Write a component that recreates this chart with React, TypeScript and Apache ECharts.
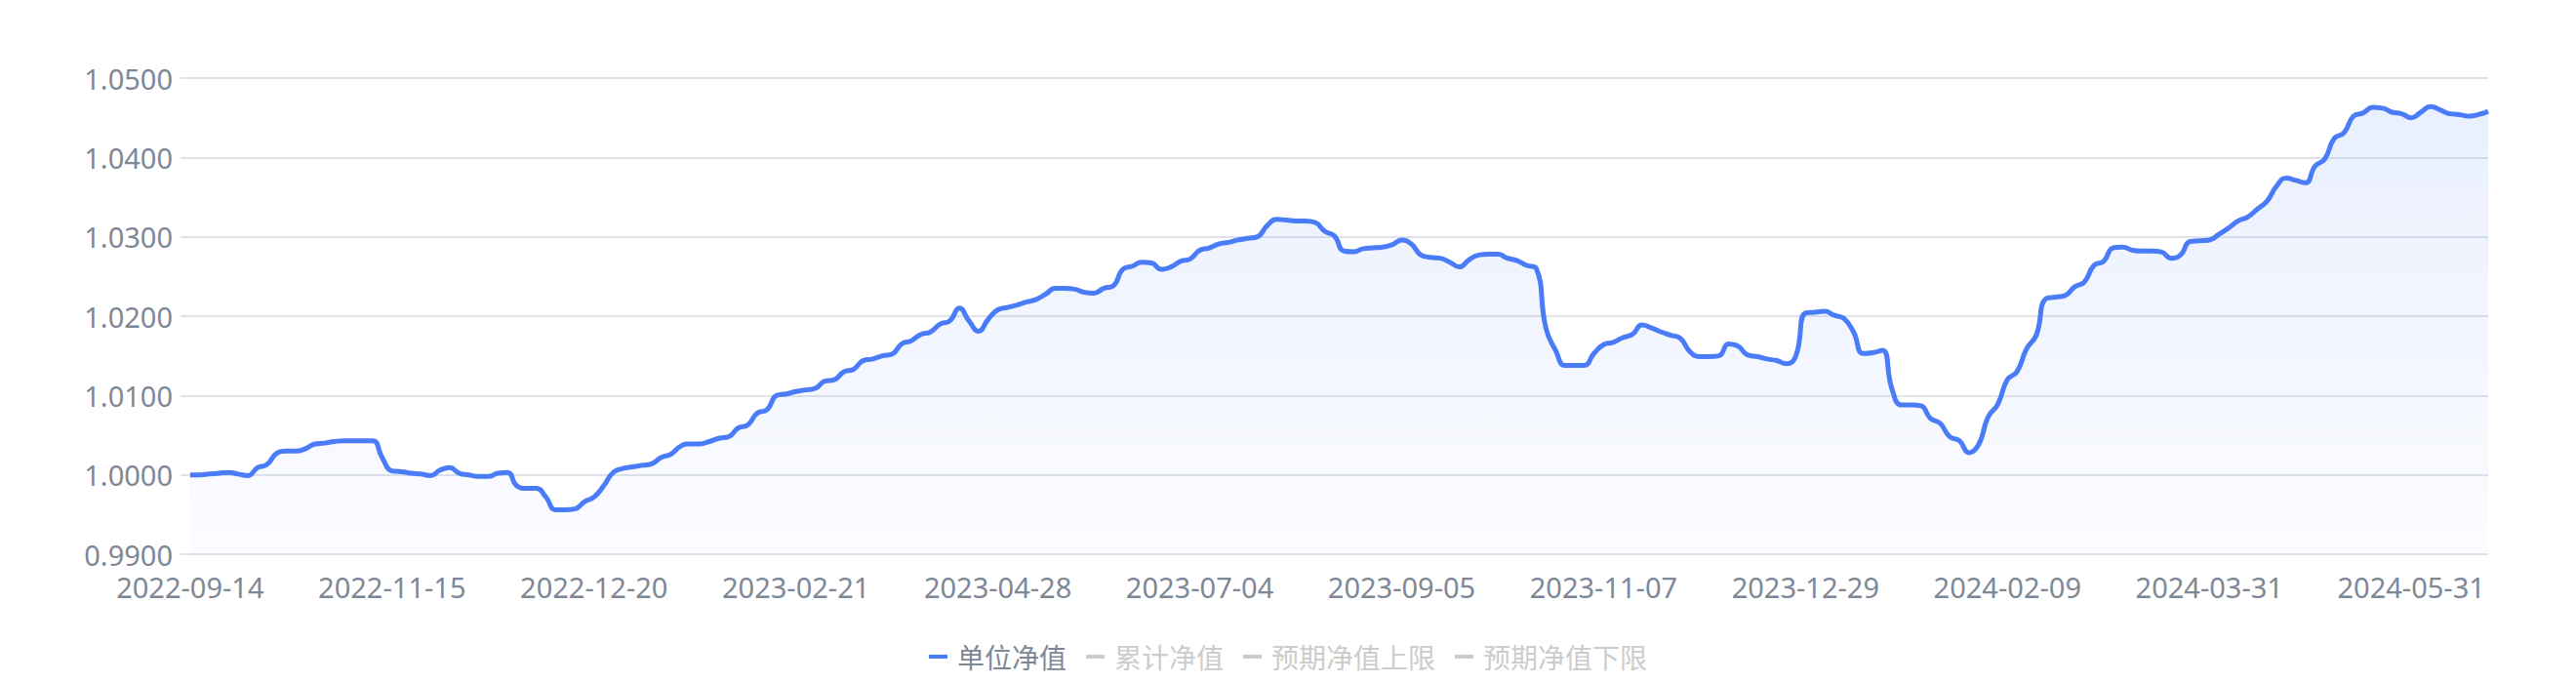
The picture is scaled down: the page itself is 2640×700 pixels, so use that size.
import React, { useEffect, useRef } from "react";
import * as echarts from "echarts";

// Tick labels shown on the category axis (one every LABEL_STEP categories)
const tickLabels = [
  "2022-09-14", "2022-11-15", "2022-12-20", "2023-02-21", "2023-04-28", "2023-07-04",
  "2023-09-05", "2023-11-07", "2023-12-29", "2024-02-09", "2024-03-31", "2024-05-31",
];
const LABEL_STEP = 21;
const LABEL_OFFSET = 1;

// 单位净值 (unit NAV); the first slot is an empty leading category
const unitNav: (number | null)[] = [
  null,
  1.0000, 1.0000, 1.0001, 1.0002, 1.0003, 1.0001, 0.9999, 1.0009, 1.0013, 1.0027,
  1.0030, 1.0030, 1.0033, 1.0039, 1.0040, 1.0042, 1.0043, 1.0043, 1.0043, 1.0043,
  1.0021, 1.0005, 1.0004, 1.0002, 1.0001, 0.9999, 1.0006, 1.0009, 1.0002, 1.0000,
  0.9998, 0.9998, 1.0002, 1.0003, 0.9986, 0.9983, 0.9983, 0.9972, 0.9956, 0.9956,
  0.9957, 0.9966, 0.9972, 0.9986, 1.0003, 1.0008, 1.0010, 1.0012, 1.0014, 1.0022,
  1.0026, 1.0036, 1.0039, 1.0039, 1.0042, 1.0046, 1.0048, 1.0059, 1.0063, 1.0078,
  1.0082, 1.0100, 1.0102, 1.0105, 1.0107, 1.0109, 1.0118, 1.0120, 1.0130, 1.0133,
  1.0144, 1.0146, 1.0150, 1.0152, 1.0165, 1.0169, 1.0177, 1.0180, 1.0190, 1.0194,
  1.0210, 1.0194, 1.0181, 1.0196, 1.0208, 1.0211, 1.0214, 1.0218, 1.0221, 1.0228,
  1.0235, 1.0235, 1.0234, 1.0230, 1.0229, 1.0235, 1.0238, 1.0259, 1.0263, 1.0268,
  1.0267, 1.0259, 1.0262, 1.0269, 1.0272, 1.0283, 1.0286, 1.0291, 1.0293, 1.0296,
  1.0298, 1.0300, 1.0314, 1.0322, 1.0321, 1.0320, 1.0320, 1.0318, 1.0307, 1.0301,
  1.0282, 1.0281, 1.0285, 1.0286, 1.0287, 1.0290, 1.0296, 1.0291, 1.0277, 1.0274,
  1.0273, 1.0268, 1.0262, 1.0271, 1.0277, 1.0278, 1.0278, 1.0273, 1.0270, 1.0264,
  1.0260, 1.0185, 1.0157, 1.0138, 1.0138, 1.0138, 1.0153, 1.0164, 1.0167, 1.0173,
  1.0177, 1.0189, 1.0185, 1.0180, 1.0176, 1.0172, 1.0155, 1.0149, 1.0149, 1.0150,
  1.0165, 1.0162, 1.0151, 1.0149, 1.0146, 1.0144, 1.0140, 1.0150, 1.0204, 1.0205,
  1.0206, 1.0201, 1.0197, 1.0180, 1.0153, 1.0154, 1.0157, 1.0108, 1.0088, 1.0088,
  1.0087, 1.0071, 1.0065, 1.0048, 1.0043, 1.0028, 1.0038, 1.0073, 1.0089, 1.0120,
  1.0130, 1.0159, 1.0176, 1.0222, 1.0224, 1.0226, 1.0237, 1.0243, 1.0264, 1.0269,
  1.0286, 1.0287, 1.0283, 1.0282, 1.0282, 1.0281, 1.0273, 1.0277, 1.0294, 1.0295,
  1.0296, 1.0303, 1.0311, 1.0320, 1.0325, 1.0335, 1.0345, 1.0364, 1.0374, 1.0371,
  1.0368, 1.0389, 1.0398, 1.0424, 1.0431, 1.0452, 1.0456, 1.0463, 1.0462, 1.0457,
  1.0455, 1.0450, 1.0457, 1.0464, 1.0460, 1.0455, 1.0454, 1.0452, 1.0454, 1.0458,
];

const seriesNames = ["单位净值", "累计净值", "预期净值上限", "预期净值下限"];
const yTicks = { min: 0.99, max: 1.05, interval: 0.01 };

const categories = unitNav.map((_, i) => {
  const k = (i - LABEL_OFFSET) / LABEL_STEP;
  return i >= LABEL_OFFSET && Number.isInteger(k) && tickLabels[k] ? tickLabels[k] : "";
});

const LINE_COLOR = "#4a7cf7";
const TEXT_COLOR = "#7d8796";

export default function App() {
  const ref = useRef<HTMLDivElement>(null);
  useEffect(() => {
    document.body.style.margin = "0";
    const chart = echarts.init(ref.current!, null, { renderer: "svg" });
    chart.setOption({
      animation: false,
      backgroundColor: "#ffffff",
      legend: {
        top: 654,
        left: "center",
        icon: "rect",
        itemWidth: 19,
        itemHeight: 4,
        itemGap: 20,
        inactiveColor: "#cccccc",
        textStyle: {
          fontSize: 28,
          color: TEXT_COLOR,
          fontFamily: '"Noto Sans CJK SC", sans-serif',
          padding: [0, 0, 0, 5],
        },
        data: seriesNames,
        selected: {
          [seriesNames[1]]: false,
          [seriesNames[2]]: false,
          [seriesNames[3]]: false,
        },
      },
      grid: { left: 185, right: 90, top: 80, bottom: 132 },
      xAxis: {
        type: "category",
        boundaryGap: false,
        data: categories,
        axisLine: { show: false },
        axisTick: { show: false },
        splitLine: { show: false },
        axisLabel: {
          interval: 0,
          color: TEXT_COLOR,
          fontSize: 29,
          lineHeight: 29,
          fontFamily: '"Noto Sans", sans-serif',
          margin: 19,
        },
      },
      yAxis: {
        type: "value",
        min: yTicks.min,
        max: yTicks.max,
        interval: yTicks.interval,
        axisLine: { show: false },
        axisTick: { show: false },
        splitLine: { lineStyle: { color: "#e0e4ea", width: 2 } },
        axisLabel: {
          color: TEXT_COLOR,
          fontSize: 29,
          lineHeight: 26,
          fontFamily: '"Noto Sans", sans-serif',
          margin: 8,
          formatter: (v: number) => v.toFixed(4),
        },
      },
      series: [
        {
          name: seriesNames[0],
          type: "line",
          data: unitNav,
          smooth: true,
          symbol: "none",
          showSymbol: false,
          lineStyle: { width: 5, color: LINE_COLOR },
          itemStyle: { color: LINE_COLOR },
          areaStyle: {
            color: new echarts.graphic.LinearGradient(0, 0, 0, 1, [
              { offset: 0, color: "rgba(74,124,247,0.17)" },
              { offset: 1, color: "rgba(74,124,247,0.03)" },
            ]),
          },
        },
        { name: seriesNames[1], type: "line", data: [], symbol: "none", itemStyle: { color: "#f5a623" } },
        { name: seriesNames[2], type: "line", data: [], symbol: "none", itemStyle: { color: "#52c41a" } },
        { name: seriesNames[3], type: "line", data: [], symbol: "none", itemStyle: { color: "#f5222d" } },
      ],
    });
    return () => chart.dispose();
  }, []);
  return <div ref={ref} style={{ width: 2640, height: 700 }} />;
}
